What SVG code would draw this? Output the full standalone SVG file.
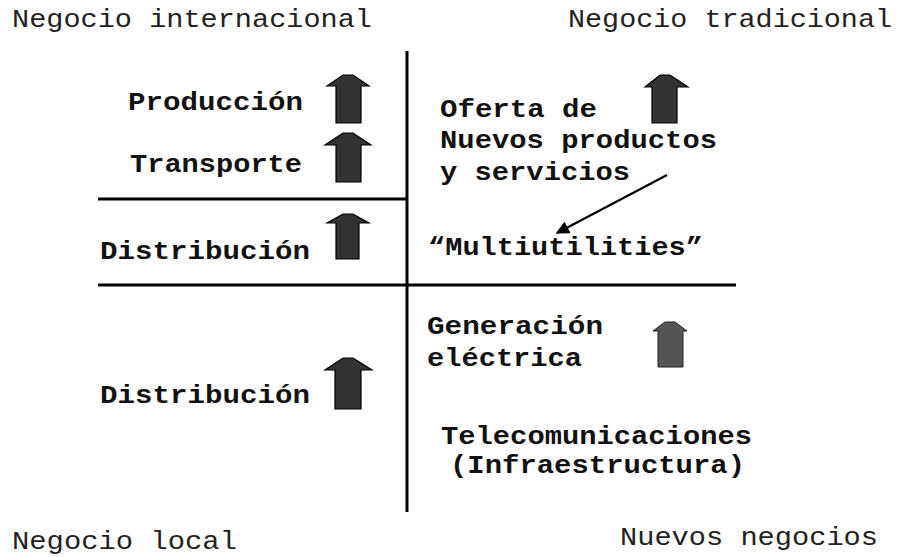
<svg xmlns="http://www.w3.org/2000/svg" width="898" height="557" viewBox="0 0 898 557">
<defs>
<style>
text{font-family:"Liberation Mono","Courier New",monospace;font-size:26px;fill:#111}
.c{font-weight:normal;fill:#222}
.b{font-weight:bold}
.ax{fill:#333;stroke:#000;stroke-width:1.2}
.ax2{fill:#555;stroke:#222;stroke-width:1}
.ln{stroke:#000;stroke-width:3;fill:none}
</style>
<marker id="ah" viewBox="0 0 10 10" refX="9" refY="5" markerWidth="6.5" markerHeight="6" orient="auto" markerUnits="strokeWidth">
<path d="M0,0 L10,5 L0,10 z" fill="#000"/>
</marker>
</defs>
<rect width="898" height="557" fill="#fff"/>
<g id="axes">
<line class="ln" x1="407" y1="51" x2="407" y2="512"/>
<line class="ln" x1="98" y1="199" x2="407" y2="199"/>
<line class="ln" x1="98" y1="285" x2="736" y2="285"/>
</g>
<g id="corner-labels">
<text class="c" x="12" y="27" textLength="360" lengthAdjust="spacingAndGlyphs">Negocio internacional</text>
<text class="c" x="568" y="27" textLength="324" lengthAdjust="spacingAndGlyphs">Negocio tradicional</text>
<text class="c" x="12" y="549" textLength="225" lengthAdjust="spacingAndGlyphs">Negocio local</text>
<text class="c" x="620" y="545" textLength="258" lengthAdjust="spacingAndGlyphs">Nuevos negocios</text>
</g>
<g id="produccion">
<text class="b" x="128" y="110" textLength="175" lengthAdjust="spacingAndGlyphs">Producción</text>
<polygon class="ax" points="343,75 353,75 369,86 361,86 361,123 336,123 336,86 327,86"/>
</g>
<g id="transporte">
<text class="b" x="130" y="172" textLength="172" lengthAdjust="spacingAndGlyphs">Transporte</text>
<polygon class="ax" points="343,133 353,133 371,145 361,145 361,182 336,182 336,145 325,145"/>
</g>
<g id="distribucion-1">
<text class="b" x="100" y="259" textLength="210" lengthAdjust="spacingAndGlyphs">Distribución</text>
<polygon class="ax" points="343,214 353,214 369,223 359,223 359,259 336,259 336,223 327,223"/>
</g>
<g id="distribucion-2">
<text class="b" x="100" y="403" textLength="210" lengthAdjust="spacingAndGlyphs">Distribución</text>
<polygon class="ax" points="343,358 353,358 372,370 361,370 361,409 335,409 335,370 325,370"/>
</g>
<g id="oferta">
<text class="b" x="440" y="117" textLength="157" lengthAdjust="spacingAndGlyphs">Oferta de</text>
<text class="b" x="440" y="148" textLength="277" lengthAdjust="spacingAndGlyphs">Nuevos productos</text>
<text class="b" x="440" y="180" textLength="190" lengthAdjust="spacingAndGlyphs">y servicios</text>
<polygon class="ax" points="660,75 670,75 688,87 677,87 677,123 652,123 652,87 645,87"/>
</g>
<g id="multiutilities">
<text class="b" x="428" y="255" textLength="275" lengthAdjust="spacingAndGlyphs">“Multiutilities”</text>
</g>
<g id="generacion">
<text class="b" x="427" y="334" textLength="176" lengthAdjust="spacingAndGlyphs">Generación</text>
<text class="b" x="427" y="366" textLength="155" lengthAdjust="spacingAndGlyphs">eléctrica</text>
<polygon class="ax2" points="665,322 675,322 687,331 683,331 683,367 658,367 658,331 653,331"/>
</g>
<g id="telecom">
<text class="b" x="441" y="444" textLength="311" lengthAdjust="spacingAndGlyphs">Telecomunicaciones</text>
<text class="b" x="450" y="473" textLength="295" lengthAdjust="spacingAndGlyphs">(Infraestructura)</text>
</g>
<g id="connectors">
<line x1="667" y1="175" x2="557" y2="233" stroke="#000" stroke-width="2.2" marker-end="url(#ah)"/>
</g>
</svg>
